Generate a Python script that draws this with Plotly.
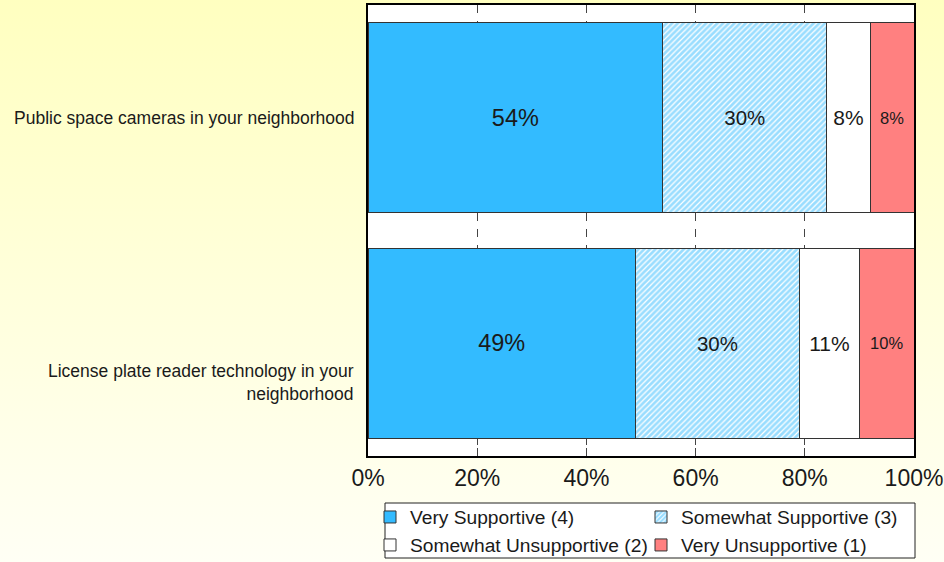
import base64
import plotly.graph_objects as go

# Survey items (top to bottom) and share of responses per support level, in percent
items = [
    "Public space cameras in your neighborhood",
    "License plate reader technology in your<br>neighborhood",
]
levels = [
    "Very Supportive (4)",
    "Somewhat Supportive (3)",
    "Somewhat Unsupportive (2)",
    "Very Unsupportive (1)",
]
very_supportive = [54, 49]
somewhat_supportive = [30, 30]
somewhat_unsupportive = [8, 11]
very_unsupportive = [8, 10]
x_ticks = [0, 20, 40, 60, 80, 100]

FONT = "Liberation Sans, Arial, sans-serif"
BORDER = "#333333"
TEXT = "#1a1a1a"

W, H = 944, 562
ML, MR, MT, MB = 368, 30, 5, 106
PW, PH = W - ML - MR, H - MT - MB


def px_x(px):
    """Horizontal pixel position -> paper coordinate."""
    return (px - ML) / PW


def px_y(py):
    """Vertical pixel position (from top) -> paper coordinate."""
    return 1 - (py - MT) / PH


fig = go.Figure()

# (name, values, marker, label size, legend column)
series = [
    (levels[0], very_supportive, dict(color="#33BBFF"), 23.5, "legend"),
    (levels[1], somewhat_supportive,
     dict(color="white", pattern=dict(shape="/", fgcolor="#33BBFF", bgcolor="white", size=4, solidity=0.7)),
     20.5, "legend2"),
    (levels[2], somewhat_unsupportive, dict(color="white"), 21, "legend"),
    (levels[3], very_unsupportive, dict(color="#FF8080"), 16.5, "legend2"),
]

for name, vals, marker, fsize, leg in series:
    marker = dict(marker, line=dict(color=BORDER, width=1))
    fig.add_trace(go.Bar(
        name=name,
        y=items,
        x=vals,
        orientation="h",
        marker=marker,
        text=vals,
        texttemplate="%{x:.0f}%",
        textposition="inside",
        insidetextanchor="middle",
        textangle=0,
        constraintext="none",
        textfont=dict(family=FONT, size=fsize, color=TEXT),
        legend=leg,
        hoverinfo="skip",
    ))

# Soft yellow page background as a vertical gradient
svg = (
    '<svg xmlns="http://www.w3.org/2000/svg" width="944" height="562" preserveAspectRatio="none">'
    '<defs><linearGradient id="g" x1="0" y1="0" x2="0" y2="1">'
    '<stop offset="0" stop-color="#FFFFC0"/><stop offset="1" stop-color="#FFFFF5"/>'
    '</linearGradient></defs><rect width="944" height="562" fill="url(#g)"/></svg>'
)
bg_src = "data:image/svg+xml;base64," + base64.b64encode(svg.encode()).decode()

legend_style = dict(
    orientation="v",
    traceorder="normal",
    yanchor="top",
    xanchor="left",
    bgcolor="rgba(0,0,0,0)",
    borderwidth=0,
    itemwidth=30,
    tracegroupgap=0,
    font=dict(family=FONT, size=19.2, color=TEXT),
)

# Category labels, right-aligned against the plot's left edge
label_shift = [0, -39]
annotations = [
    dict(text=item, xref="paper", yref="y", x=0, y=item, xanchor="right", yanchor="middle",
         xshift=-12, yshift=shift, align="right", showarrow=False,
         font=dict(family=FONT, size=17.5, color=TEXT))
    for item, shift in zip(items, label_shift)
]

fig.update_layout(
    width=W,
    height=H,
    margin=dict(l=ML, r=MR, t=MT, b=MB, pad=0, autoexpand=False),
    barmode="stack",
    bargap=0.156,
    paper_bgcolor="white",
    plot_bgcolor="white",
    font=dict(family=FONT, color=TEXT),
    images=[dict(
        source=bg_src, xref="paper", yref="paper",
        x=-ML / PW, y=1 + MT / PH, sizex=W / PW, sizey=H / PH,
        xanchor="left", yanchor="top", sizing="stretch", layer="below",
    )],
    shapes=[
        # white plot area over the gradient
        dict(type="rect", xref="paper", yref="paper", x0=0, x1=1, y0=0, y1=1,
             fillcolor="white", line=dict(width=0), layer="below"),
        # legend frame
        dict(type="rect", xref="paper", yref="paper",
             x0=px_x(385), x1=px_x(915), y0=px_y(558), y1=px_y(503),
             fillcolor="white", line=dict(color="#222222", width=1), layer="below"),
    ],
    annotations=annotations,
    legend=dict(legend_style, x=px_x(370), y=px_y(498)),
    legend2=dict(legend_style, x=px_x(641), y=px_y(498)),
    showlegend=True,
)

fig.update_xaxes(
    range=[0, 100],
    tickvals=x_ticks,
    ticktext=[f"{v}%" for v in x_ticks],
    tickfont=dict(family=FONT, size=23, color=TEXT),
    showgrid=True,
    gridcolor="#444444",
    gridwidth=1,
    griddash="8px,8px",
    ticks="inside",
    ticklen=8,
    tickcolor="#444444",
    showline=True,
    linecolor="black",
    linewidth=2,
    mirror=True,
    zeroline=False,
    fixedrange=True,
)

fig.update_yaxes(
    autorange="reversed",
    showticklabels=False,
    ticks="",
    showline=True,
    linecolor="black",
    linewidth=2,
    mirror=True,
    showgrid=False,
    fixedrange=True,
)

fig.write_html("out.html")
